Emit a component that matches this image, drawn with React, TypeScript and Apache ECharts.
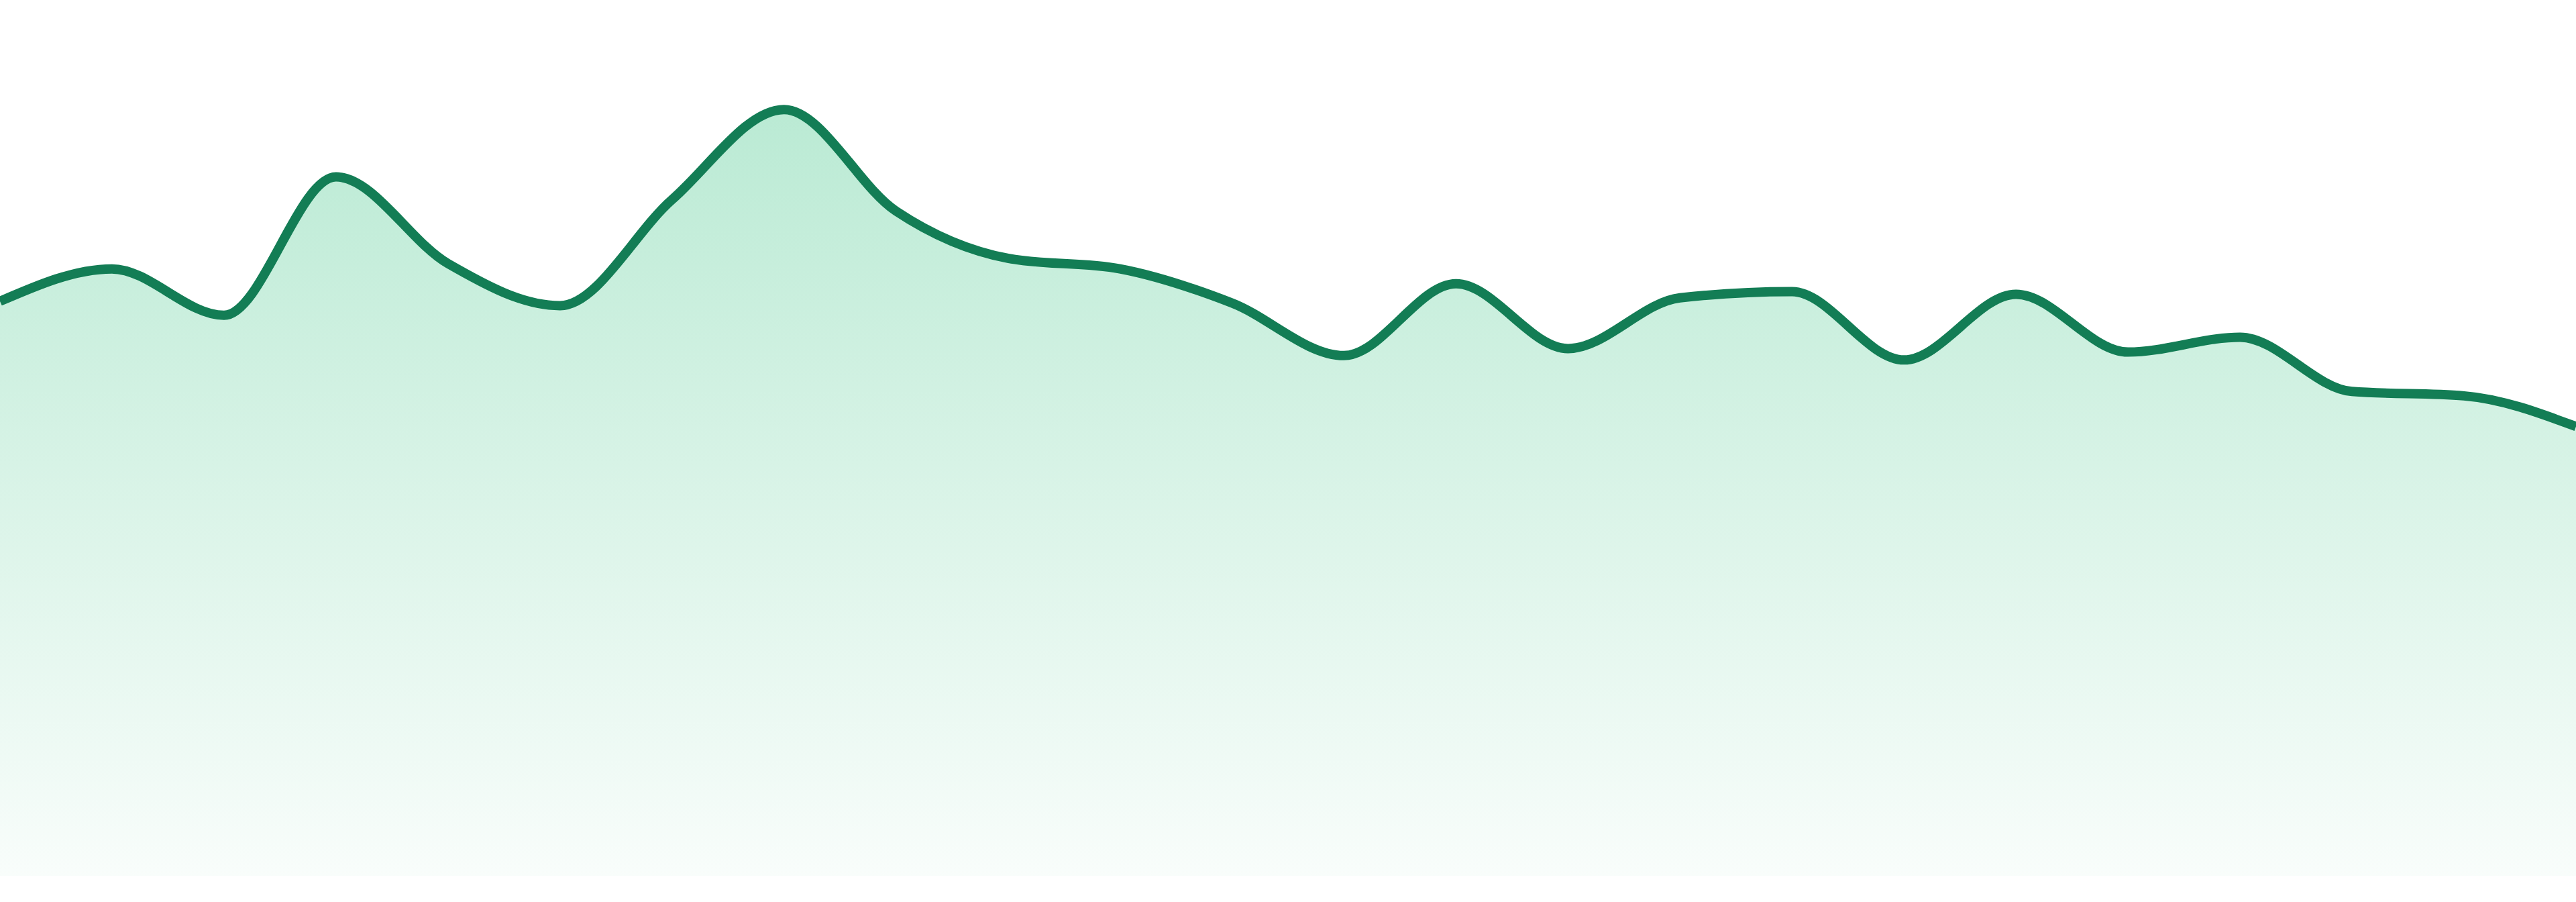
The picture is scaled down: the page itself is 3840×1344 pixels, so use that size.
import React, { useEffect, useRef } from 'react';
import * as echarts from 'echarts';

// hourly samples, one per category
const hours = [
  '00:00', '01:00', '02:00', '03:00', '04:00', '05:00', '06:00', '07:00',
  '08:00', '09:00', '10:00', '11:00', '12:00', '13:00', '14:00', '15:00',
  '16:00', '17:00', '18:00', '19:00', '20:00', '21:00', '22:00', '23:00'
];

const values = [
  65.6, 69.3, 64.0, 79.8, 69.9, 65.1, 77.2, 87.5,
  75.9, 70.5, 69.3, 65.4, 59.4, 67.6, 60.2, 66.0,
  66.7, 58.9, 66.4, 59.8, 61.5, 55.3, 54.8, 51.3
];

const yMin = 0;
const yMax = 100;

const LINE_COLOR = '#137d55';

// monotone-x cubic (same idea as d3.curveMonotoneX), built on pixel points
function monotonePath(pts: number[][]): string {
  const n = pts.length;
  const t: number[] = new Array(n).fill(0);
  const sign = (v: number) => (v < 0 ? -1 : 1);
  for (let i = 1; i < n - 1; i++) {
    const h0 = pts[i][0] - pts[i - 1][0];
    const h1 = pts[i + 1][0] - pts[i][0];
    const s0 = (pts[i][1] - pts[i - 1][1]) / h0;
    const s1 = (pts[i + 1][1] - pts[i][1]) / h1;
    const p = (s0 * h1 + s1 * h0) / (h0 + h1);
    t[i] = (sign(s0) + sign(s1)) * Math.min(Math.abs(s0), Math.abs(s1), 0.5 * Math.abs(p)) || 0;
  }
  const hA = pts[1][0] - pts[0][0];
  t[0] = (3 * (pts[1][1] - pts[0][1]) / hA - t[1]) / 2;
  const hB = pts[n - 1][0] - pts[n - 2][0];
  t[n - 1] = (3 * (pts[n - 1][1] - pts[n - 2][1]) / hB - t[n - 2]) / 2;

  let d = `M${pts[0][0]},${pts[0][1]}`;
  for (let i = 0; i < n - 1; i++) {
    const [x0, y0] = pts[i];
    const [x1, y1] = pts[i + 1];
    const dx = (x1 - x0) / 3;
    d += ` C${x0 + dx},${y0 + dx * t[i]} ${x1 - dx},${y1 - dx * t[i + 1]} ${x1},${y1}`;
  }
  return d;
}

const App: React.FC = () => {
  const chartRef = useRef<HTMLDivElement>(null);

  useEffect(() => {
    if (!chartRef.current) return;

    const chart = echarts.init(chartRef.current, undefined, { renderer: 'svg' });

    const option: echarts.EChartsOption = {
      animation: false,
      backgroundColor: '#ffffff',
      grid: { left: 0, right: 0, top: 0, bottom: 39 },
      xAxis: {
        type: 'category',
        data: hours,
        boundaryGap: false,
        show: false
      },
      yAxis: {
        type: 'value',
        min: yMin,
        max: yMax,
        show: false
      },
      series: [
        {
          type: 'custom',
          data: values.map((v, i) => [i, v]),
          encode: { x: 0, y: 1 },
          renderItem: (params: any, api: any) => {
            // whole curve is drawn once, from the first item
            if (params.dataIndex !== 0) return null;
            const pts = values.map((v, i) => api.coord([i, v]));
            const base = api.coord([0, yMin])[1];
            const line = monotonePath(pts);
            const last = pts[pts.length - 1];
            const area = `${line} L${last[0]},${base} L${pts[0][0]},${base} Z`;
            return {
              type: 'group',
              children: [
                {
                  type: 'path',
                  shape: { pathData: area },
                  style: {
                    fill: new echarts.graphic.LinearGradient(0, 0, 0, 1, [
                      { offset: 0, color: 'rgba(40, 190, 120, 0.32)' },
                      { offset: 1, color: 'rgba(40, 190, 120, 0.03)' }
                    ]),
                    stroke: 'none'
                  }
                },
                {
                  type: 'path',
                  shape: { pathData: line },
                  style: { fill: 'none', stroke: LINE_COLOR, lineWidth: 14 }
                }
              ]
            };
          }
        }
      ]
    };

    chart.setOption(option);

    const handleResize = () => chart.resize();
    window.addEventListener('resize', handleResize);

    return () => {
      window.removeEventListener('resize', handleResize);
      chart.dispose();
    };
  }, []);

  return (
    <div
      ref={chartRef}
      style={{ position: 'fixed', left: 0, top: 0, width: '100vw', height: '100vh' }}
    />
  );
};

export default App;
